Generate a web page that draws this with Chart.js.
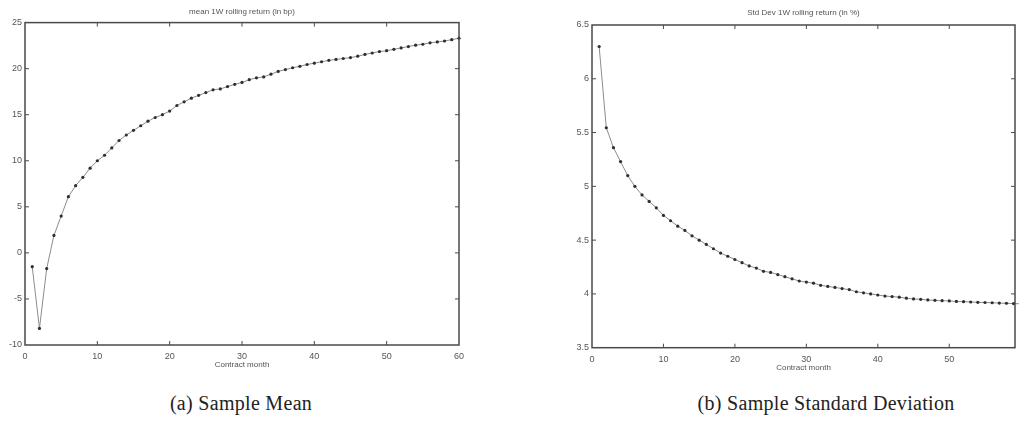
<!DOCTYPE html>
<html>
<head>
<meta charset="utf-8">
<script src="https://cdn.jsdelivr.net/npm/chart.js@4"></script>
<style>
  body { margin: 0; background: #ffffff; }
  #page { position: relative; width: 1019px; height: 437px; overflow: hidden; }
  #meanCanvas { position: absolute; left: 0; top: 0; }
  #stdCanvas { position: absolute; left: 540px; top: 0; }
  .caption { position: absolute; top: 392px; font-family: "Liberation Serif", serif; font-size: 20px; letter-spacing: 0.3px; color: #222; white-space: nowrap; transform: translateX(-50%); }
</style>
</head>
<body>
<div id="page">
  <canvas id="meanCanvas" width="468" height="380"></canvas>
  <canvas id="stdCanvas" width="479" height="383"></canvas>
  <div class="caption" style="left: 241px;">(a) Sample Mean</div>
  <div class="caption" style="left: 826px;">(b) Sample Standard Deviation</div>
</div>
<script>
// Data
var contractMonths = [];
for (var m = 1; m <= 60; m++) { contractMonths.push(m); }

var meanReturnBp = [-1.5, -8.2, -1.7, 1.9, 4.0, 6.1, 7.3, 8.2, 9.2, 10.0,
  10.6, 11.4, 12.2, 12.8, 13.3, 13.8, 14.3, 14.7, 15.0, 15.4,
  16.0, 16.4, 16.8, 17.1, 17.4, 17.7, 17.8, 18.05, 18.3, 18.5,
  18.8, 19.0, 19.1, 19.4, 19.7, 19.9, 20.1, 20.25, 20.45, 20.6,
  20.75, 20.9, 21.0, 21.1, 21.2, 21.35, 21.55, 21.7, 21.85, 21.95,
  22.1, 22.25, 22.4, 22.55, 22.65, 22.8, 22.9, 23.0, 23.15, 23.3];

var stdReturnPct = [6.30, 5.545, 5.36, 5.23, 5.10, 5.00, 4.92, 4.86, 4.80, 4.73,
  4.68, 4.63, 4.59, 4.54, 4.50, 4.46, 4.42, 4.38, 4.35, 4.32,
  4.29, 4.26, 4.24, 4.21, 4.20, 4.18, 4.16, 4.14, 4.12, 4.11,
  4.10, 4.08, 4.07, 4.06, 4.05, 4.04, 4.02, 4.01, 4.00, 3.99,
  3.98, 3.975, 3.97, 3.96, 3.953, 3.95, 3.944, 3.94, 3.937, 3.935,
  3.93, 3.928, 3.925, 3.922, 3.92, 3.918, 3.915, 3.913, 3.91, 3.908];

var meanTitle = 'mean 1W rolling return (in bp)';
var stdTitle = 'Std Dev 1W rolling return (in %)';
var xAxisTitle = 'Contract month';

var textColor = '#555555';
var axisFont = "'Liberation Sans', Arial, sans-serif";

// box round the plot with inward ticks, matlab style
var boxPlugin = {
  id: 'boxPlugin',
  afterDraw: function (chart) {
    var ctx = chart.ctx;
    var area = chart.chartArea;
    var xs = chart.scales.x;
    var ys = chart.scales.y;
    var len = 4;
    ctx.save();
    ctx.strokeStyle = '#4a4a4a';
    ctx.lineWidth = 1.5;
    ctx.strokeRect(area.left, area.top, area.right - area.left, area.bottom - area.top);
    ctx.lineWidth = 1;
    ctx.beginPath();
    for (var i = 0; i < xs.ticks.length; i++) {
      var px = xs.getPixelForValue(xs.ticks[i].value);
      if (px <= area.left + 1 || px >= area.right - 1) continue;
      ctx.moveTo(px, area.bottom);
      ctx.lineTo(px, area.bottom - len);
      ctx.moveTo(px, area.top);
      ctx.lineTo(px, area.top + len);
    }
    for (var j = 0; j < ys.ticks.length; j++) {
      var py = ys.getPixelForValue(ys.ticks[j].value);
      if (py <= area.top + 1 || py >= area.bottom - 1) continue;
      ctx.moveTo(area.left, py);
      ctx.lineTo(area.left + len, py);
      ctx.moveTo(area.right, py);
      ctx.lineTo(area.right - len, py);
    }
    ctx.stroke();
    ctx.restore();
  }
};

function makeLineChart(canvasId, values, opts) {
  var canvas = document.getElementById(canvasId);
  var ctx = canvas.getContext('2d');
  var points = [];
  for (var i = 0; i < contractMonths.length; i++) {
    points.push({ x: contractMonths[i], y: values[i] });
  }

  return new Chart(ctx, {
    type: 'line',
    data: {
      datasets: [
        {
          data: points,
          borderColor: '#8c8c8c',
          borderWidth: 1,
          pointRadius: 1.6,
          pointBackgroundColor: '#2e2e2e',
          pointBorderWidth: 0,
          tension: 0
        }
      ]
    },
    options: {
      responsive: false,
      animation: false,
      clip: false,
      layout: { padding: { left: 0, right: opts.padRight, top: 0, bottom: 0 } },
      plugins: {
        legend: { display: false },
        tooltip: { enabled: false },
        title: {
          display: true,
          text: opts.title,
          fullSize: false,
          color: textColor,
          font: { family: axisFont, size: 8, weight: 'normal' },
          padding: { top: opts.titleTop, bottom: opts.titleBottom }
        }
      },
      scales: {
        x: {
          type: 'linear',
          min: 0,
          max: opts.xMax,
          grid: { display: false, drawTicks: false },
          border: { display: false },
          ticks: {
            stepSize: 10,
            padding: 6,
            color: textColor,
            maxRotation: 0,
            font: { family: axisFont, size: 9 }
          },
          afterBuildTicks: function (scale) {
            scale.ticks = scale.ticks.filter(function (t) { return t.value % 10 === 0; });
          },
          afterFit: function (scale) {
            scale.height = opts.xHeight;
            scale.paddingRight = 0;
          },
          title: {
            display: true,
            text: xAxisTitle,
            color: textColor,
            font: { family: axisFont, size: 8 },
            padding: { top: 2, bottom: 10 }
          }
        },
        y: {
          min: opts.yMin,
          max: opts.yMax,
          grid: { display: false, drawTicks: false },
          border: { display: false },
          ticks: {
            stepSize: opts.yStep,
            padding: 3,
            color: textColor,
            font: { family: axisFont, size: 9 },
            callback: function (value) { return String(Number(value.toFixed(2))); }
          },
          afterFit: function (scale) { scale.width = opts.yWidth; }
        }
      }
    },
    plugins: [boxPlugin]
  });
}

makeLineChart('meanCanvas', meanReturnBp, {
  title: meanTitle, xMax: 60, yMin: -10, yMax: 25, yStep: 5,
  yWidth: 25, xHeight: 35, padRight: 9, titleTop: 7, titleBottom: 6
});

makeLineChart('stdCanvas', stdReturnPct, {
  title: stdTitle, xMax: 59.2, yMin: 3.5, yMax: 6.5, yStep: 0.5,
  yWidth: 52, xHeight: 35.3, padRight: 1, titleTop: 8, titleBottom: 7.4
});
</script>
</body>
</html>
